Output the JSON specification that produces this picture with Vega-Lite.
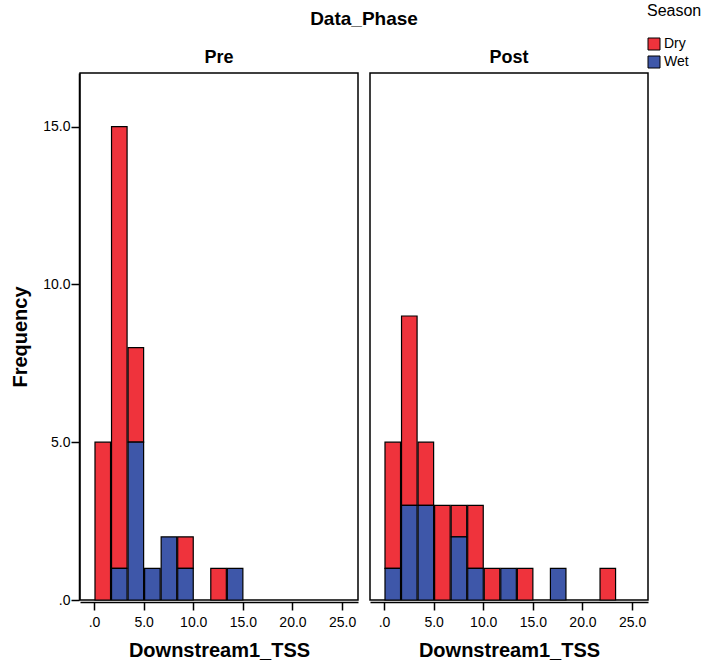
{
  "$schema": "https://vega.github.io/schema/vega-lite/v6.json",
  "padding": {"left": 10, "top": 3, "right": 2, "bottom": 4},
  "config": {
    "font": "Liberation Sans",
    "view": {"stroke": "black", "strokeWidth": 1.5},
    "axis": {
      "grid": false,
      "domainColor": "black",
      "tickColor": "black",
      "labelColor": "black",
      "titleColor": "black",
      "labelFont": "Liberation Sans",
      "titleFont": "Liberation Sans",
      "labelFontSize": 14,
      "titleFontSize": 20,
      "titleFontWeight": "bold",
      "tickSize": 8,
      "domainWidth": 1.5,
      "tickWidth": 1.5
    },
    "header": {
      "titleFont": "Liberation Sans",
      "labelFont": "Liberation Sans",
      "titleColor": "black",
      "labelColor": "black"
    },
    "legend": {
      "titleFont": "Liberation Sans",
      "labelFont": "Liberation Sans",
      "titleFontSize": 16,
      "titleFontWeight": "normal",
      "labelFontSize": 14,
      "titleColor": "black",
      "labelColor": "black",
      "symbolType": "square",
      "symbolSize": 144,
      "symbolStrokeColor": "black",
      "symbolStrokeWidth": 1,
      "rowPadding": 2,
      "labelOffset": 3,
      "titlePadding": 18
    }
  },
  "data": {
    "values": [
      {"Data_Phase": "Pre", "Season": "Dry", "bin_start": 0, "bin_end": 1.6667, "count": 5},
      {"Data_Phase": "Pre", "Season": "Dry", "bin_start": 1.6667, "bin_end": 3.3333, "count": 14},
      {"Data_Phase": "Pre", "Season": "Wet", "bin_start": 1.6667, "bin_end": 3.3333, "count": 1},
      {"Data_Phase": "Pre", "Season": "Dry", "bin_start": 3.3333, "bin_end": 5, "count": 3},
      {"Data_Phase": "Pre", "Season": "Wet", "bin_start": 3.3333, "bin_end": 5, "count": 5},
      {"Data_Phase": "Pre", "Season": "Wet", "bin_start": 5, "bin_end": 6.6667, "count": 1},
      {"Data_Phase": "Pre", "Season": "Wet", "bin_start": 6.6667, "bin_end": 8.3333, "count": 2},
      {"Data_Phase": "Pre", "Season": "Dry", "bin_start": 8.3333, "bin_end": 10, "count": 1},
      {"Data_Phase": "Pre", "Season": "Wet", "bin_start": 8.3333, "bin_end": 10, "count": 1},
      {"Data_Phase": "Pre", "Season": "Dry", "bin_start": 11.6667, "bin_end": 13.3333, "count": 1},
      {"Data_Phase": "Pre", "Season": "Wet", "bin_start": 13.3333, "bin_end": 15, "count": 1},
      {"Data_Phase": "Post", "Season": "Dry", "bin_start": 0, "bin_end": 1.6667, "count": 4},
      {"Data_Phase": "Post", "Season": "Wet", "bin_start": 0, "bin_end": 1.6667, "count": 1},
      {"Data_Phase": "Post", "Season": "Dry", "bin_start": 1.6667, "bin_end": 3.3333, "count": 6},
      {"Data_Phase": "Post", "Season": "Wet", "bin_start": 1.6667, "bin_end": 3.3333, "count": 3},
      {"Data_Phase": "Post", "Season": "Dry", "bin_start": 3.3333, "bin_end": 5, "count": 2},
      {"Data_Phase": "Post", "Season": "Wet", "bin_start": 3.3333, "bin_end": 5, "count": 3},
      {"Data_Phase": "Post", "Season": "Dry", "bin_start": 5, "bin_end": 6.6667, "count": 3},
      {"Data_Phase": "Post", "Season": "Dry", "bin_start": 6.6667, "bin_end": 8.3333, "count": 1},
      {"Data_Phase": "Post", "Season": "Wet", "bin_start": 6.6667, "bin_end": 8.3333, "count": 2},
      {"Data_Phase": "Post", "Season": "Dry", "bin_start": 8.3333, "bin_end": 10, "count": 2},
      {"Data_Phase": "Post", "Season": "Wet", "bin_start": 8.3333, "bin_end": 10, "count": 1},
      {"Data_Phase": "Post", "Season": "Dry", "bin_start": 10, "bin_end": 11.6667, "count": 1},
      {"Data_Phase": "Post", "Season": "Wet", "bin_start": 11.6667, "bin_end": 13.3333, "count": 1},
      {"Data_Phase": "Post", "Season": "Dry", "bin_start": 13.3333, "bin_end": 15, "count": 1},
      {"Data_Phase": "Post", "Season": "Wet", "bin_start": 16.6667, "bin_end": 18.3333, "count": 1},
      {"Data_Phase": "Post", "Season": "Dry", "bin_start": 21.6667, "bin_end": 23.3333, "count": 1}
    ]
  },
  "facet": {
    "column": {
      "field": "Data_Phase",
      "type": "nominal",
      "sort": ["Pre", "Post"],
      "header": {
        "title": "Data_Phase",
        "titleFontSize": 19,
        "titleFontWeight": "bold",
        "titlePadding": 10,
        "labelFontSize": 18,
        "labelFontWeight": "bold",
        "labelPadding": 5
      }
    }
  },
  "spacing": 10,
  "spec": {
    "width": 278,
    "height": 527,
    "mark": {"type": "bar", "stroke": "black", "strokeWidth": 1.2},
    "encoding": {
      "x": {
        "field": "bin_start",
        "type": "quantitative",
        "bin": "binned",
        "scale": {"domain": [-1.41, 26.6], "nice": false, "zero": false},
        "axis": {
          "title": "Downstream1_TSS",
          "values": [0, 5, 10, 15, 20, 25],
          "labelExpr": "datum.value == 0 ? '.0' : format(datum.value, '.1f')",
          "titlePadding": 11,
          "labelPadding": 5
        }
      },
      "x2": {"field": "bin_end"},
      "y": {
        "field": "count",
        "type": "quantitative",
        "stack": "zero",
        "scale": {"domain": [0, 16.7], "nice": false},
        "axis": {
          "title": "Frequency",
          "values": [0, 5, 10, 15],
          "labelExpr": "datum.value == 0 ? '.0' : format(datum.value, '.1f')",
          "titlePadding": 12,
          "labelPadding": 1
        }
      },
      "color": {
        "field": "Season",
        "type": "nominal",
        "scale": {"domain": ["Dry", "Wet"], "range": ["#EF333C", "#3E57A9"]},
        "legend": {"title": "Season", "orient": "none", "legendX": 567, "legendY": -70}
      },
      "order": {"field": "Season", "sort": "descending"}
    }
  }
}
